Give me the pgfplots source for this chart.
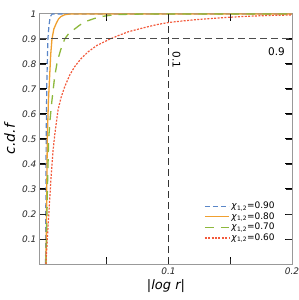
\documentclass[border=0pt]{standalone}
\usepackage{fontspec}
\setmainfont{DejaVu Sans}
\usepackage{pgfplots}
\pgfplotsset{compat=1.18}
\definecolor{cblue}{HTML}{5A86C8}
\definecolor{corange}{HTML}{F0A030}
\definecolor{cgreen}{HTML}{8DB83C}
\definecolor{cred}{HTML}{F25A3C}
\begin{document}
\begin{tikzpicture}
\begin{axis}[
  scale only axis, width=252pt, height=250pt,
  xmin=-0.004, xmax=0.2, ymin=0, ymax=1,
  axis line style={gray!80, line width=1pt},
  xtick pos=both, ytick pos=both,
  major tick style={draw=black, line width=1pt},
  tick align=inside, major tick length=7pt,
  xtick={0.05,0.1,0.15,0.2}, xticklabels={,0.1,,0.2},
  ytick={0.1,0.2,...,1.0}, yticklabels={0.1,0.2,0.3,0.4,0.5,0.6,0.7,0.8,0.9,1},
  tick label style={font=\fontsize{9}{10}\selectfont\itshape, text=black!85},
  /pgf/number format/assume math mode=true,
  xlabel={\itshape |log r|}, ylabel={\itshape c.d.f},
  xlabel style={font=\fontsize{13}{14}\selectfont, at={(axis description cs:0.5,-0.05)}, anchor=north},
  ylabel style={font=\fontsize{14}{15}\selectfont, at={(axis description cs:-0.085,0.5)}, anchor=south},
  legend style={draw=none, fill=none, at={(0.944,0.075)}, anchor=south east,
    font=\fontsize{9}{9.5}\selectfont, row sep=-1.6pt, inner sep=1pt},
  legend cell align=left,
  legend image code/.code={\draw[#1] (0pt,0pt) -- (24pt,0pt);},
]
\addplot[cblue, line width=1.2pt, dash pattern=on 5pt off 3pt] coordinates {
(0.0005,0) (0.0008,0.3) (0.001,0.5) (0.0015,0.72) (0.0024,0.9) (0.0032,0.95) (0.004,0.98) (0.005,0.995) (0.006,1) (0.2,1)};
\addlegendentry{\textit{χ}\textsubscript{1,2}=0.90}
\addplot[corange, line width=1.3pt] coordinates {
(0.0008,0) (0.0012,0.15) (0.0015,0.3) (0.0019,0.5) (0.0028,0.65) (0.0038,0.75) (0.0047,0.84) (0.0057,0.9) (0.0072,0.94) (0.0092,0.963) (0.011,0.98) (0.013,0.99) (0.016,0.997) (0.02,1) (0.2,1)};
\addlegendentry{\textit{χ}\textsubscript{1,2}=0.80}
\addplot[cgreen, line width=1.3pt, dash pattern=on 9pt off 7pt] coordinates {
(0.0008,0) (0.0015,0.15) (0.002,0.3) (0.003,0.5) (0.0042,0.58) (0.0057,0.656) (0.0079,0.75) (0.01,0.81) (0.0127,0.856) (0.016,0.9) (0.019,0.92) (0.023,0.936) (0.028,0.955) (0.033,0.97) (0.04,0.982) (0.046,0.99) (0.053,0.995) (0.06,0.998) (0.08,1) (0.2,1)};
\addlegendentry{\textit{χ}\textsubscript{1,2}=0.70}
\addplot[cred, line width=1.2pt, dash pattern=on 2pt off 1.4pt] coordinates {
(0.0008,0) (0.0016,0.07) (0.0024,0.14) (0.004,0.27) (0.005,0.35) (0.0065,0.45) (0.008,0.52) (0.0106,0.616) (0.013,0.665) (0.016,0.709) (0.02,0.755) (0.024,0.789) (0.029,0.82) (0.035,0.849) (0.042,0.874) (0.051,0.896) (0.059,0.913) (0.0675,0.929) (0.08,0.945) (0.09,0.957) (0.1,0.966) (0.113,0.973) (0.126,0.979) (0.143,0.985) (0.16,0.99) (0.18,0.994) (0.2,0.996)};
\addlegendentry{\textit{χ}\textsubscript{1,2}=0.60}
\addplot[black!80, line width=1pt, dash pattern=on 7pt off 4pt, forget plot] coordinates {(0.1,0) (0.1,1)};
\addplot[black!70, line width=1pt, dash pattern=on 7pt off 4pt, forget plot] coordinates {(-0.004,0.9) (0.2,0.9)};
\node[rotate=-90, font=\fontsize{10.5}{11}\selectfont] at (axis cs:0.1065,0.815) {0.1};
\node[font=\fontsize{10.5}{11}\selectfont] at (axis cs:0.1875,0.848) {0.9};
\pgfplotsinvokeforeach{0.1,0.2,0.3,0.4,0.5,0.6,0.7,0.8,0.9}{
  \draw[black!85, line width=0.9pt] (axis cs:0.2,#1) -- ++(-6pt,0pt);
  \draw[black!85, line width=0.9pt] (axis cs:-0.004,#1) -- ++(6pt,0pt);
}
\pgfplotsinvokeforeach{0.05,0.1,0.15}{
  \draw[black!85, line width=0.9pt] (axis cs:#1,0) -- ++(0pt,5pt);
  \draw[black!85, line width=0.9pt] (axis cs:#1,1) -- ++(0pt,-5pt);
}
\end{axis}
\pgfresetboundingbox
\path ([xshift=-40pt,yshift=-36pt]current axis.south west) rectangle ([xshift=7pt,yshift=14pt]current axis.north east);
\end{tikzpicture}
\end{document}
